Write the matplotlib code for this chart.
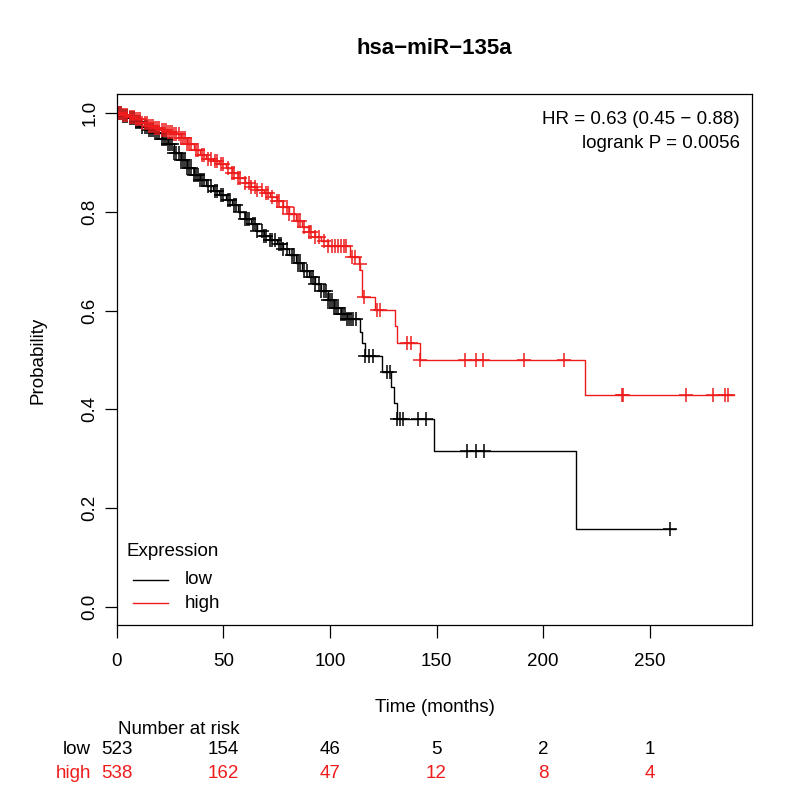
import numpy as np
import matplotlib
matplotlib.use("Agg")
import matplotlib.pyplot as plt
import matplotlib.transforms as mtransforms

plt.rcParams['font.family'] = ['Liberation Sans', 'DejaVu Sans']

# step times (start of each level) and survival levels
low_t = [0, 3, 6, 9, 12, 15, 18, 21, 24, 27, 30, 33, 36, 39, 42, 45, 48, 51, 54, 57,
         60, 63, 66, 69, 72, 75, 78, 81, 84, 87, 90, 93, 96, 99, 102, 105, 108, 113.9,
         115, 116.5, 124.5, 128.8, 130, 131.5, 148.7, 215.2]
low_s = [1.0, 0.995, 0.99, 0.982, 0.973, 0.966, 0.959, 0.948, 0.937, 0.92, 0.905, 0.888,
         0.874, 0.865, 0.853, 0.843, 0.834, 0.825, 0.815, 0.80, 0.786, 0.775, 0.762, 0.752,
         0.744, 0.735, 0.724, 0.713, 0.697, 0.680, 0.668, 0.654, 0.640, 0.622, 0.606, 0.593,
         0.583, 0.557, 0.534, 0.507, 0.476, 0.446, 0.412, 0.381, 0.316, 0.158]
low_end = 262

high_t = [0, 3, 6, 9, 12, 15, 18, 21, 24, 27, 30, 33, 36, 39, 42, 45, 48, 51, 54, 57,
          60, 63, 66, 69, 72, 75, 78, 81, 84, 87, 90, 93, 96, 99, 109.5, 113.4, 114.3,
          115, 121.3, 130.7, 131.5, 142.1, 219.7]
high_s = [1.0, 0.997, 0.993, 0.988, 0.98, 0.974, 0.970, 0.967, 0.962, 0.957, 0.950, 0.938,
          0.925, 0.915, 0.908, 0.903, 0.897, 0.888, 0.878, 0.868, 0.858, 0.851, 0.845, 0.838,
          0.83, 0.822, 0.81, 0.795, 0.782, 0.770, 0.76, 0.750, 0.740, 0.730, 0.709, 0.695,
          0.682, 0.628, 0.601, 0.568, 0.535, 0.500, 0.4286]
high_end = 289.5

# censoring times
low_cens = [1, 2, 3, 4, 5, 6, 7, 8, 9, 10, 11, 12, 13, 14, 15, 16, 17, 18, 19, 20, 21, 22,
            23, 24, 25, 26, 27, 28, 29, 30, 31, 32, 33, 34, 35, 36, 37, 38, 39, 40, 41, 43,
            44, 46, 47, 49, 50, 52, 53, 55, 56, 58, 60, 61, 62, 64, 65, 66, 68, 69, 70, 72,
            73, 74, 76, 77, 78, 80, 82, 83, 85, 86, 88, 89, 91, 92, 93, 95, 96, 97, 98, 99,
            100, 101, 102, 103, 104, 105, 106, 107, 108, 109, 110, 111, 112, 116.6, 118.4,
            120.2, 126.8, 128, 131.5, 133, 134.3, 141.3, 145.1, 164.3, 168.3, 172.2, 259.5]
high_cens = [1, 2, 3, 4, 5, 6, 7, 8, 9, 10, 11, 12, 13, 14, 15, 16, 17, 18, 19, 20, 21, 22,
             23, 24, 25, 26, 27, 28, 29, 30, 31, 32, 33, 34, 35, 37, 38, 40, 41, 43, 44, 46,
             47, 49, 50, 52, 54, 55, 57, 58, 60, 62, 63, 65, 66, 68, 70, 71, 73, 75, 76, 78,
             80, 81, 83, 85, 86, 88, 90, 91, 93, 95, 97, 99, 101, 102.5, 104, 105, 106.5,
             107.5, 110.3, 111.9, 114, 115.8, 122.1, 123.3, 136.1, 138, 142.4, 163.5, 168.5,
             171.8, 191.2, 209.7, 237, 237.6, 266.9, 279.8, 285.3, 286.7]

risk_times = [0, 50, 100, 150, 200, 250]
risk_low = [523, 154, 46, 5, 2, 1]
risk_high = [538, 162, 47, 12, 8, 4]

RED = '#ee1c1c'
FS = 13.5


def surv_at(ts, ss, t):
    i = np.searchsorted(ts, t, side='right') - 1
    return np.asarray(ss)[i]


def fy(py):
    # pixel row -> figure fraction
    return 1 - py / 800


def fx(px):
    return px / 800


fig = plt.figure(figsize=(8, 8), dpi=100)
ax = fig.add_axes([0.146, 0.219, 0.794, 0.6635])

for ts, ss, end, cens, col in [(low_t, low_s, low_end, low_cens, 'black'),
                               (high_t, high_s, high_end, high_cens, RED)]:
    xs = list(ts) + [end]
    ys = list(ss) + [ss[-1]]
    ax.step(xs, ys, where='post', color=col, lw=1.0)
    cy = [surv_at(ts, ss, c) for c in cens]
    ax.plot(cens, cy, ls='none', marker='+', ms=10, mew=1.1, color=col)

ax.set_xlim(0, 298)
ax.set_ylim(-0.037, 1.039)
ax.set_xticks(risk_times)
ax.set_yticks([0, 0.2, 0.4, 0.6, 0.8, 1.0])
ax.set_yticklabels(['0.0', '0.2', '0.4', '0.6', '0.8', '1.0'], rotation=90, va='center')
ax.tick_params(direction='out', length=9, width=0.9, labelsize=FS, color='black')
ax.tick_params(axis='x', pad=11)
ax.tick_params(axis='y', pad=4)
for sp in ax.spines.values():
    sp.set_linewidth(0.9)

fig.text(fx(434.5), fy(48), 'hsa\u2212miR\u2212135a', ha='center', va='center',
         fontsize=16, fontweight='bold')
fig.text(fx(37.5), fy(360), 'Probability', ha='center', va='center', rotation=90, fontsize=FS)
fig.text(fx(434.5), fy(708), 'Time (months)', ha='center', va='center', fontsize=FS)

fig.text(fx(740), fy(120), 'HR = 0.63 (0.45 \u2212 0.88)', ha='right', va='center', fontsize=FS)
fig.text(fx(740), fy(143), 'logrank P = 0.0056', ha='right', va='center', fontsize=FS)

# legend drawn the way R's legend() lays it out
fig.text(fx(127), fy(551), 'Expression', ha='left', va='center', fontsize=FS)
for lab, col, py in [('low', 'black', 580), ('high', RED, 603)]:
    fig.add_artist(plt.Line2D([fx(133), fx(168)], [fy(py), fy(py)], color=col, lw=1.0))
    fig.text(fx(185), fy(py), lab, ha='left', va='center', fontsize=FS)

tr = mtransforms.blended_transform_factory(ax.transData, fig.transFigure)
fig.text(fx(118), fy(730), 'Number at risk', ha='left', va='center', fontsize=FS)
fig.text(fx(91), fy(750), 'low', ha='right', va='center', fontsize=FS)
fig.text(fx(91), fy(773), 'high', ha='right', va='center', fontsize=FS, color=RED)
for t, a, b in zip(risk_times, risk_low, risk_high):
    ax.text(t, fy(750), str(a), transform=tr, ha='center', va='center', fontsize=FS,
            clip_on=False)
    ax.text(t, fy(773), str(b), transform=tr, ha='center', va='center', fontsize=FS,
            color=RED, clip_on=False)

fig.savefig('out.png', dpi=100)
